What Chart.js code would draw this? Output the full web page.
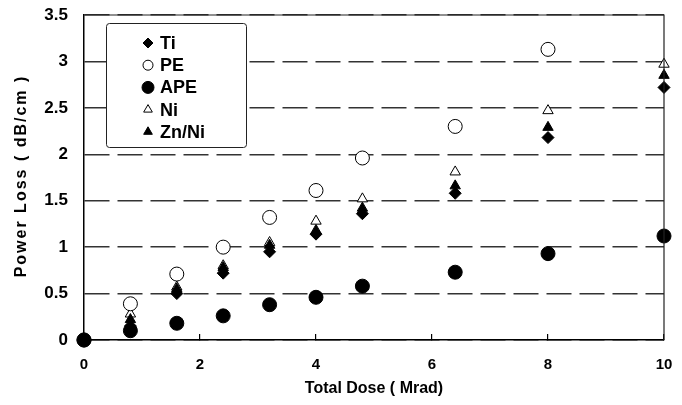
<!DOCTYPE html>
<html lang="en">
<head>
    <meta charset="UTF-8">
    <title>Power Loss vs Total Dose</title>
    <script src="https://cdn.jsdelivr.net/npm/chart.js"></script>
    <style>
        body, html {
            margin: 0;
            padding: 0;
            background: #fff;
            overflow: hidden;
        }
        #wrap {
            width: 682px;
            height: 405px;
        }
    </style>
</head>
<body>
    <div id="wrap"><canvas id="lossChart"></canvas></div>

    <script>
        const dose = [0, 0.8, 1.6, 2.4, 3.2, 4.0, 4.8, 6.4, 8.0, 10.0];
        const ti   = [0, 0.15, 0.50, 0.72, 0.95, 1.14, 1.36, 1.58, 2.18, 2.72];
        const pe   = [0, 0.39, 0.71, 1.00, 1.32, 1.61, 1.96, 2.30, 3.13, null];
        const ape  = [0, 0.10, 0.18, 0.26, 0.38, 0.46, 0.58, 0.73, 0.93, 1.12];
        const ni   = [0, 0.28, 0.57, 0.80, 1.05, 1.28, 1.52, 1.81, 2.47, 2.97];
        const znNi = [0, 0.22, 0.55, 0.78, 1.02, 1.18, 1.42, 1.66, 2.29, 2.85];
        const xTicks = [0, 2, 4, 6, 8, 10];
        const yTicks = [0, 0.5, 1, 1.5, 2, 2.5, 3, 3.5];

        const FONT = '"Liberation Sans", Arial, sans-serif';
        const pts = (ys) => dose.map((x, i) => ({ x: x, y: ys[i] })).filter(p => p.y !== null);

        // legend order as in the figure
        const series = [
            { label: 'Ti',    data: ti,   style: 'rectRot',  fill: '#000', r: 6, lr: 5, order: 1 },
            { label: 'PE',    data: pe,   style: 'circle',   fill: '#fff', r: 7, lr: 5, order: 3 },
            { label: 'APE',   data: ape,  style: 'circle',   fill: '#000', r: 7, lr: 6, order: 0 },
            { label: 'Ni',    data: ni,   style: 'triangle', fill: '#fff', r: 6, lr: 5, order: 4 },
            { label: 'Zn/Ni', data: znNi, style: 'triangle', fill: '#000', r: 6, lr: 5, order: 2 }
        ];

        const boxAndLegend = {
            id: 'boxAndLegend',
            afterDraw(chart) {
                const ctx = chart.ctx;
                const a = chart.chartArea;
                ctx.save();
                // top and right frame
                ctx.strokeStyle = '#222';
                ctx.lineWidth = 1.2;
                ctx.beginPath();
                ctx.moveTo(a.left, a.top);
                ctx.lineTo(a.right, a.top);
                ctx.lineTo(a.right, a.bottom);
                ctx.stroke();

                // legend box
                ctx.beginPath();
                ctx.roundRect(106.5, 23.5, 140, 124, 3);
                ctx.fillStyle = '#fff';
                ctx.fill();
                ctx.strokeStyle = '#222';
                ctx.lineWidth = 1;
                ctx.stroke();

                ctx.font = 'bold 18px ' + FONT;
                ctx.textBaseline = 'middle';
                ctx.textAlign = 'left';
                series.forEach((s, i) => {
                    const y = 43 + i * 22.2;
                    ctx.fillStyle = s.fill;
                    ctx.strokeStyle = '#000';
                    Chart.helpers.drawPoint(ctx, { pointStyle: s.style, radius: s.lr, borderWidth: 1 }, 148, y);
                    ctx.fillStyle = '#000';
                    ctx.fillText(s.label, 160, y + 1);
                });

                // y axis title, letter spaced
                ctx.translate(22, 176);
                ctx.rotate(-Math.PI / 2);
                ctx.font = 'bold 16px ' + FONT;
                ctx.letterSpacing = '2px';
                ctx.textAlign = 'center';
                ctx.fillStyle = '#000';
                ctx.fillText('Power Loss ( dB/cm )', 0, 0);
                ctx.restore();
            }
        };

        const ctxLoss = document.getElementById('lossChart').getContext('2d');
        new Chart(ctxLoss, {
            type: 'scatter',
            data: {
                datasets: series.map(s => ({
                    label: s.label,
                    data: pts(s.data),
                    pointStyle: s.style,
                    pointRadius: s.r,
                    pointHoverRadius: s.r,
                    backgroundColor: s.fill,
                    borderColor: '#000',
                    borderWidth: 1,
                    order: s.order,
                    clip: false
                }))
            },
            options: {
                responsive: true,
                maintainAspectRatio: false,
                animation: false,
                layout: { autoPadding: false, padding: { top: 15, right: 18, left: 0, bottom: 0 } },
                scales: {
                    x: {
                        type: 'linear',
                        min: 0,
                        max: 10,
                        afterBuildTicks: (s) => { s.ticks = xTicks.map(v => ({ value: v })); },
                        afterFit: (s) => { s.height = 65; s.paddingLeft = 0; s.paddingRight = 0; },
                        grid: { drawOnChartArea: false, drawTicks: true, tickLength: -6, color: '#000', lineWidth: 1.2 },
                        border: { color: '#000', width: 1.5 },
                        ticks: { color: '#000', padding: 22, font: { family: FONT, size: 15, weight: 'bold' } },
                        title: {
                            display: true,
                            text: 'Total Dose ( Mrad)',
                            color: '#000',
                            font: { family: FONT, size: 16, weight: 'bold' },
                            padding: { top: 0, bottom: 7 }
                        }
                    },
                    y: {
                        min: 0,
                        max: 3.5,
                        afterBuildTicks: (s) => { s.ticks = yTicks.map(v => ({ value: v })); },
                        afterFit: (s) => { s.width = 84; s.paddingTop = 0; s.paddingBottom = 0; },
                        grid: { drawTicks: false, color: '#333', lineWidth: 1.5 },
                        border: { color: '#000', width: 1.5, dash: [25, 8] },
                        ticks: {
                            color: '#000',
                            padding: 16,
                            font: { family: FONT, size: 17, weight: 'bold' },
                            callback: (v) => String(v)
                        }
                    }
                },
                plugins: {
                    legend: { display: false },
                    tooltip: { enabled: false }
                }
            },
            plugins: [boxAndLegend]
        });
    </script>
</body>
</html>
